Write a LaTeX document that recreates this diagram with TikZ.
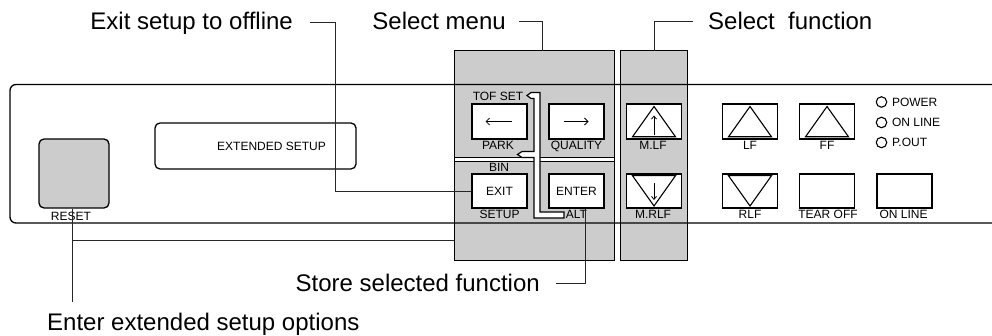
\documentclass[tikz,border=0pt]{standalone}
\usepackage{fontspec}
\setmainfont{Liberation Sans}
\usetikzlibrary{arrows.meta}
\definecolor{pgray}{HTML}{CCCCCC}
\newcommand\uptri[1]{\draw[line width=1.1pt] ([shift={(0,-15)}]#1.center) -- ([shift={(-21.5,15.3)}]#1.center) -- ([shift={(21.5,15.3)}]#1.center) -- cycle;}
\newcommand\dntri[1]{\draw[line width=1.1pt] ([shift={(0,15)}]#1.center) -- ([shift={(-21.5,-15.3)}]#1.center) -- ([shift={(21.5,-15.3)}]#1.center) -- cycle;}
\begin{document}
\begin{tikzpicture}[x=1pt,y=-1pt,line join=miter,
  big/.style={font=\fontsize{24}{28}\selectfont, inner sep=0pt},
  small/.style={font=\fontsize{12}{14}\selectfont, inner sep=0pt},
  btn/.style={draw, fill=white, line width=1.3pt, minimum width=55pt, minimum height=35pt, inner sep=0pt, font=\fontsize{12}{14}\selectfont},
  graybox/.style={draw, fill=pgray, line width=1pt, inner sep=0pt},
  lead/.style={line width=0.9pt, draw=black!85},
  thinarrow/.style={line width=0.8pt, -{Straight Barb[length=3.5pt,width=7pt]}}]
\clip (0,0) rectangle (992,336);
% panel background
\fill[white, rounded corners=6pt] (10,84.5) rectangle (1010,223);
% gray regions
\node[graybox, minimum width=160pt, minimum height=210pt] (g1) at (534,156) {};
\node[graybox, minimum width=67pt, minimum height=210pt] (g2) at (653.5,156) {};
\draw[fill=white, line width=1pt] (454,157.3) rectangle (614,161.7);
% panel outline
\draw[line width=1.3pt, rounded corners=6pt] (10,84.5) rectangle (1010,223);
% reset and display
\node[draw, fill=pgray, line width=1.3pt, rounded corners=5pt, minimum width=70pt, minimum height=69pt, inner sep=0pt] (reset) at (74,173.5) {};
\node[small, anchor=base] (resetlbl) at (71,221) {RESET};
\node[draw, line width=1.3pt, rounded corners=5pt, minimum width=201pt, minimum height=46pt, inner sep=0pt] (disp) at (255.5,146) {};
\node[small] (disptxt) at (271.5,146) {EXTENDED SETUP};
% menu buttons
\node[btn] (bL) at (499.5,121.5) {};
\node[btn] (bR) at (576.5,121.5) {};
\node[btn, minimum height=34pt] (bExit) at (499.5,191) {EXIT};
\node[btn, minimum height=34pt] (bEnter) at (576.5,191) {ENTER};
\draw[thinarrow] ([xshift=12.5]bL.center) -- ([xshift=-14]bL.center);
\draw[thinarrow] ([xshift=-13]bR.center) -- ([xshift=12]bR.center);
\node[small, anchor=base] at (498,101) {TOF SET};
\node[small, anchor=base] at ([shift={(-1.5,9.5)}]bL.south) {PARK};
\node[small, anchor=base] at ([shift={(0,9.5)}]bR.south) {QUALITY};
\node[small, anchor=base] at (499,172) {BIN};
\node[small, anchor=base] at ([shift={(0,10)}]bExit.south) {SETUP};
\node[small, anchor=base] at ([shift={(0,10)}]bEnter.south) {ALT};
% function buttons
\node[btn] (bMLF) at (654,121.5) {};
\node[btn, minimum height=34pt] (bMRLF) at (654,191) {};
\node[btn] (bLF) at (750,121.5) {};
\node[btn] (bFF) at (827,121.5) {};
\node[btn, minimum height=34pt] (bRLF) at (750,191) {};
\node[btn, minimum height=34pt] (bTear) at (827,191) {};
\node[btn, minimum height=34pt] (bOn) at (904.5,191) {};
\uptri{bMLF}\uptri{bLF}\uptri{bFF}
\dntri{bMRLF}\dntri{bRLF}
\draw[thinarrow, -{Straight Barb[length=3pt,width=5pt]}] ([shift={(0,13.5)}]bMLF.center) -- ([shift={(0,-6)}]bMLF.center);
\draw[thinarrow, -{Straight Barb[length=3pt,width=5pt]}] ([shift={(0,-8)}]bMRLF.center) -- ([shift={(0,9)}]bMRLF.center);
\node[small, anchor=base] at ([shift={(-1,9.5)}]bMLF.south) {M.LF};
\node[small, anchor=base] at ([shift={(-1,10)}]bMRLF.south) {M.RLF};
\node[small, anchor=base] at ([shift={(0,9.5)}]bLF.south) {LF};
\node[small, anchor=base] at ([shift={(0,9.5)}]bFF.south) {FF};
\node[small, anchor=base] at ([shift={(0,10)}]bRLF.south) {RLF};
\node[small, anchor=base] at ([shift={(1,10)}]bTear.south) {TEAR OFF};
\node[small, anchor=base] at ([shift={(-1,10)}]bOn.south) {ON LINE};
% LEDs
\foreach \yy/\txt/\nm in {102/POWER/l1, 122.5/ON LINE/l2, 142.5/P.OUT/l3}{
  \node[draw, circle, line width=1.1pt, minimum size=10.5pt, inner sep=0pt] (\nm) at (881.5,\yy) {};
  \node[small, anchor=base west] at ([shift={(4.5,4.3)}]\nm.east) {\txt};
}
% bracket band
\draw[fill=white, line width=1.2pt] (527,95.5) -- (531,92.5) -- (540,92.5) -- (540,212) -- (564,212) -- (564,218) -- (534,218) -- (534,157.5) -- (522,157.5) -- (517.5,154.5) -- (522,151.5) -- (534,151.5) -- (534,98.5) -- (531,98.5) -- cycle;
% callout texts
\node[big, anchor=base east] (tExit) at (293,30) {Exit setup to offline};
\node[big, anchor=base east] (tMenu) at (506,30) {Select menu};
\node[big, anchor=base west] (tFunc) at (708,30) {Select\ \ function};
\node[big, anchor=base east] (tStore) at (540,291) {Store selected function};
\node[big, anchor=base west] (tEnter) at (47,330) {Enter extended setup options};
% leaders
\coordinate (cExit) at (310,22);
\coordinate (cMenu) at (519,21);
\coordinate (cFunc) at (693,21);
\coordinate (cStore) at (556,283);
\draw[lead] (cExit) -- (335,22) |- (bExit.west);
\draw[lead] (cMenu) -| (542,51);
\draw[lead] (cFunc) -| (654,51);
\draw[lead] (cStore) -| ([xshift=8.5]bEnter.south);
\draw[lead] ([xshift=-2]reset.south) -- (72,302);
\draw[lead] (72,240) -- (g1.west |- 0,240);
\end{tikzpicture}
\end{document}
